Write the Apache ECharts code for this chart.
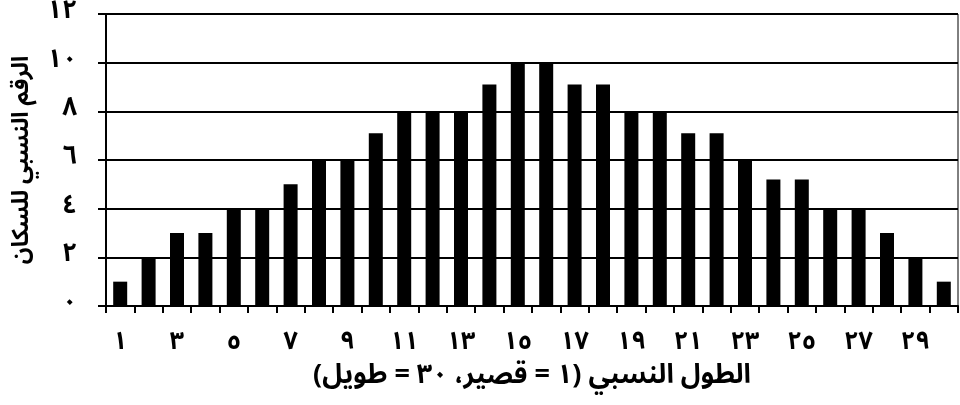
<!DOCTYPE html>
<html>
<head>
<meta charset="utf-8">
<script src="https://cdn.jsdelivr.net/npm/echarts@6/dist/echarts.min.js"></script>
<style>
html,body{margin:0;padding:0;background:#fff;}
#c{width:960px;height:405px;}
</style>
</head>
<body>
<div id="c"></div>
<script>
// Categories: relative height 1..30 (Arabic-Indic digits)
const categories = ['١','٢','٣','٤','٥','٦','٧','٨','٩','١٠','١١','١٢','١٣','١٤','١٥','١٦','١٧','١٨','١٩','٢٠','٢١','٢٢','٢٣','٢٤','٢٥','٢٦','٢٧','٢٨','٢٩','٣٠'];
// Relative population number
const values = [1,2,3,3,4,4,5,6,6,7.1,8,8,8,9.1,10,10,9.1,9.1,8,8,7.1,7.1,6,5.2,5.2,4,4,3,2,1];
// Y tick labels (0..12 step 2)
const yTickValues = [0,2,4,6,8,10,12];
const yTickLabels = ['٠','٢','٤','٦','٨','١٠','١٢'];
const xTitle = 'الطول النسبي (١ = قصير، ٣٠ = طويل)';
const yTitle = 'الرقم النسبي للسكان';

const FONT = '"Noto Sans Arabic", "DejaVu Sans", sans-serif';
const chart = echarts.init(document.getElementById('c'), null, {renderer:'canvas'});
chart.setOption({
  animation:false,
  backgroundColor:'#fff',
  grid:{left:106,right:2,top:14,bottom:99,show:true,borderColor:'#000',borderWidth:1},
  xAxis:{
    type:'category',
    data:categories,
    boundaryGap:true,
    axisLine:{lineStyle:{color:'#000',width:2}},
    axisTick:{show:true,interval:0,length:7,lineStyle:{color:'#000',width:2}},
    axisLabel:{interval:1,margin:27,color:'#000',fontSize:25,fontWeight:'bold',fontFamily:FONT},
    name:xTitle,
    nameLocation:'middle',
    nameGap:59,
    nameTextStyle:{color:'#000',fontSize:27,fontWeight:'bold',fontFamily:FONT}
  },
  yAxis:{
    type:'value',
    min:0,max:12,interval:2,
    axisLine:{show:true,lineStyle:{color:'#000',width:2}},
    axisTick:{show:true,length:8,lineStyle:{color:'#000',width:2}},
    axisLabel:{margin:29,color:'#000',fontSize:26,fontWeight:'bold',fontFamily:FONT,
      formatter:function(v){const i=yTickValues.indexOf(v);return i>=0?yTickLabels[i]:'';}},
    splitLine:{show:true,lineStyle:{color:'#000',width:2}},
    name:yTitle,
    nameLocation:'middle',
    nameGap:68,
    nameRotate:90,
    nameTextStyle:{color:'#000',fontSize:23,fontWeight:'bold',fontFamily:FONT}
  },
  series:[{
    type:'bar',
    data:values,
    barWidth:14,
    itemStyle:{color:'#000'}
  }]
});
</script>
</body>
</html>
